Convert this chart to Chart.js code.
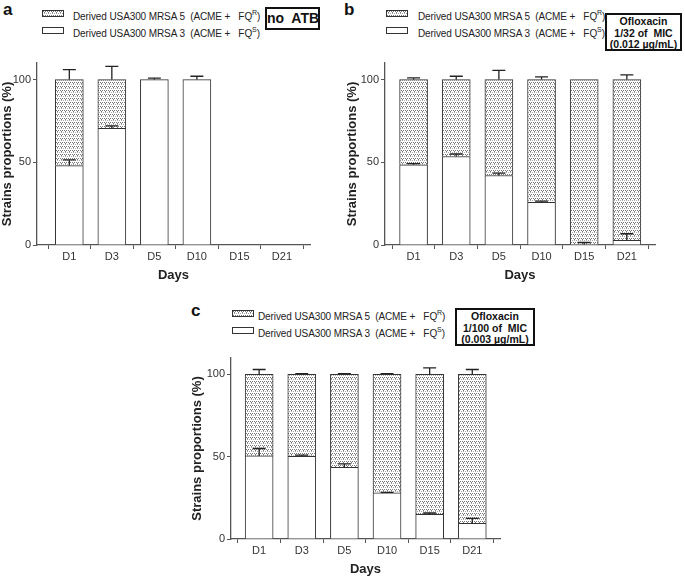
<!DOCTYPE html>
<html>
<head>
<meta charset="utf-8">
<script src="https://cdn.jsdelivr.net/npm/chart.js@4.4.1/dist/chart.umd.min.js"></script>
<style>
    body {
        margin: 0;
        width: 685px;
        height: 579px;
        background: #fff;
        position: relative;
        overflow: hidden;
        font-family: "Liberation Sans", Arial, sans-serif;
        color: #222;
    }
    canvas {
        position: absolute;
    }
    .tag {
        position: absolute;
        font-weight: bold;
        font-size: 17px;
        line-height: 1;
        color: #111;
    }
    .leg {
        position: absolute;
        font-size: 10px;
        line-height: 1;
        white-space: pre;
        color: #222;
        letter-spacing: -0.1px;
    }
    .leg sup {
        font-size: 7px;
        vertical-align: 5px;
    }
    .sw {
        position: absolute;
        width: 20px;
        height: 5px;
        border: 1px solid #333;
        background: #fff;
    }
    .box {
        position: absolute;
        border: 2px solid #111;
        font-weight: bold;
        text-align: center;
        color: #111;
        box-sizing: border-box;
        white-space: pre;
    }
</style>
</head>
<body>

<div class="tag" style="left:3px; top:1px;">a</div>
<div class="tag" style="left:344px; top:1px;">b</div>
<div class="tag" style="left:191px; top:302px;">c</div>

<div class="sw pat" style="left:42px; top:10px;"></div>
<div class="leg" style="left:73px; top:9px;">Derived USA300 MRSA 5  (ACME +   FQ<sup>R</sup>)</div>
<div class="sw" style="left:42px; top:27px;"></div>
<div class="leg" style="left:73px; top:26px;">Derived USA300 MRSA 3  (ACME +   FQ<sup>S</sup>)</div>
<div class="box" style="left:265px; top:7px; width:55px; height:23px; font-size:14px; line-height:19px;">no  ATB</div>

<div class="sw pat" style="left:386px; top:10px;"></div>
<div class="leg" style="left:418px; top:9px;">Derived USA300 MRSA 5  (ACME +   FQ<sup>R</sup>)</div>
<div class="sw" style="left:386px; top:27px;"></div>
<div class="leg" style="left:418px; top:26px;">Derived USA300 MRSA 3  (ACME +   FQ<sup>S</sup>)</div>
<div class="box" style="left:605px; top:13px; width:77px; height:38px; font-size:10.5px; line-height:11.5px; padding-top:1px;">Ofloxacin
1/32 of  MIC
(0.012 µg/mL)</div>

<div class="sw pat" style="left:232px; top:310px;"></div>
<div class="leg" style="left:258px; top:309px;">Derived USA300 MRSA 5  (ACME +   FQ<sup>R</sup>)</div>
<div class="sw" style="left:232px; top:327px;"></div>
<div class="leg" style="left:258px; top:326px;">Derived USA300 MRSA 3  (ACME +   FQ<sup>S</sup>)</div>
<div class="box" style="left:455px; top:308px; width:80px; height:38px; font-size:10.5px; line-height:11.5px; padding-top:1px;">Ofloxacin
1/100 of  MIC
(0.003 µg/mL)</div>

<canvas id="chartA" width="318" height="240" style="left:0px; top:50px;"></canvas>
<canvas id="chartB" width="315" height="240" style="left:345px; top:50px;"></canvas>
<canvas id="chartC" width="315" height="234" style="left:190px; top:345px;"></canvas>

<script>

const days = ["D1", "D3", "D5", "D10", "D15", "D21"];

const yTicks = [0, 50, 100];

// panel a : no antibiotic
const aMrsa3 = [48, 70.5, 100, 100, null, null];
const aMrsa5 = [52, 29.5, null, null, null, null];
const aErr3 = [3.5, 1.5, 0.8, 2, 0, 0];
const aErr5 = [6, 8, 0, 0, 0, 0];

// panel b : ofloxacin 1/32 MIC
const bMrsa3 = [48.5, 53.5, 42, 25.8, 0.3, 2.8];
const bMrsa5 = [51.5, 46.5, 58, 74.2, 99.7, 97.2];
const bErr3 = [0.7, 1.5, 1.5, 0.7, 1.2, 4];
const bErr5 = [1, 2, 5.5, 1.6, 0, 2.8];

// panel c : ofloxacin 1/100 MIC
const cMrsa3 = [50.5, 50.2, 43.5, 28, 15, 9.5];
const cMrsa5 = [49.5, 49.8, 56.5, 72, 85, 90.5];
const cErr3 = [4.5, 0.8, 2.2, 0.3, 0.8, 3];
const cErr5 = [3, 0.5, 0.5, 0.5, 4, 3];

function makePattern() {

    const tile = document.createElement("canvas");
    tile.width = 4;
    tile.height = 4;

    const t = tile.getContext("2d");
    t.fillStyle = "#ffffff";
    t.fillRect(0, 0, 4, 4);

    t.fillStyle = "#777";
    t.fillRect(0, 0, 1, 1);
    t.fillRect(2, 0, 1, 1);
    t.fillRect(1, 1, 1, 1);
    t.fillStyle = "#a8a8a8";
    t.fillRect(3, 2, 1, 1);
    t.fillRect(1, 2, 1, 1);

    return tile;
}

const tile = makePattern();

const patternFill =
    document.createElement("canvas")
        .getContext("2d")
        .createPattern(tile, "repeat");

document.querySelectorAll(".sw.pat").forEach(el => {
    el.style.backgroundImage = "url(" + tile.toDataURL() + ")";
});

const errorBars = {

    id: "errorBars",

    afterDatasetsDraw(chart) {

        const ctx = chart.ctx;
        const yScale = chart.scales.y;
        const sets = chart.data.datasets;

        ctx.save();
        ctx.strokeStyle = "#222";
        ctx.lineWidth = 1.3;

        sets.forEach((ds, di) => {

            const meta = chart.getDatasetMeta(di);

            ds.data.forEach((pt, i) => {

                if (pt.y === null || !ds.errors[i]) return;

                let top = 0;
                for (let k = 0; k <= di; k++) {
                    top += sets[k].data[i].y || 0;
                }

                const bar = meta.data[i];
                const y0 = yScale.getPixelForValue(top);
                const y1 = yScale.getPixelForValue(top + ds.errors[i]);
                const x = bar.x;

                ctx.beginPath();
                ctx.moveTo(x, y0);
                ctx.lineTo(x, y1);
                ctx.moveTo(x - 6.5, y1);
                ctx.lineTo(x + 6.5, y1);
                ctx.stroke();

            });

        });

        ctx.restore();
    }
};

function toPoints(values) {
    return values.map((v, i) => ({ x: i, y: v }));
}

function makePanel(id, mrsa3, mrsa5, err3, err5, xMin, xMax, yWidth, pad) {

    const axisFont = {
        family: "'Liberation Sans', Arial, sans-serif",
        size: 11
    };

    const titleFont = {
        family: "'Liberation Sans', Arial, sans-serif",
        size: 13,
        weight: "bold"
    };

    return new Chart(document.getElementById(id), {

        type: "bar",

        data: {
            datasets: [
                {
                    label: "Derived USA300 MRSA 3 (ACME + FQS)",
                    data: toPoints(mrsa3),
                    errors: err3,
                    backgroundColor: "#ffffff",
                    borderColor: "#333",
                    borderWidth: 1,
                    barThickness: 28
                },
                {
                    label: "Derived USA300 MRSA 5 (ACME + FQR)",
                    data: toPoints(mrsa5),
                    errors: err5,
                    backgroundColor: patternFill,
                    borderColor: "#333",
                    borderWidth: 1,
                    barThickness: 28
                }
            ]
        },

        options: {

            responsive: false,
            animation: false,
            devicePixelRatio: 1,

            layout: {
                padding: pad
            },

            plugins: {
                legend: { display: false },
                tooltip: { enabled: false }
            },

            scales: {

                x: {
                    type: "linear",
                    stacked: true,
                    offset: false,
                    bounds: "data",
                    min: xMin,
                    max: xMax,
                    afterBuildTicks: (scale) => {
                        scale.ticks = days.map((d, i) => ({ value: i }));
                    },
                    afterFit: (scale) => {
                        scale.height = 40;
                    },
                    ticks: {
                        callback: (v) => days[v],
                        font: axisFont,
                        color: "#333",
                        padding: 1,
                        maxRotation: 0
                    },
                    grid: {
                        drawOnChartArea: false,
                        drawTicks: true,
                        tickLength: 4,
                        color: "#555"
                    },
                    border: {
                        color: "#555",
                        width: 1.3
                    },
                    title: {
                        display: true,
                        text: "Days",
                        font: titleFont,
                        color: "#222",
                        padding: { top: 4, bottom: 2 }
                    }
                },

                y: {
                    stacked: true,
                    min: 0,
                    max: 110,
                    afterBuildTicks: (scale) => {
                        scale.ticks = yTicks.map(v => ({ value: v }));
                    },
                    afterFit: (scale) => {
                        scale.width = yWidth;
                    },
                    ticks: {
                        font: axisFont,
                        color: "#333",
                        padding: 2
                    },
                    grid: {
                        drawOnChartArea: false,
                        drawTicks: true,
                        tickLength: 4,
                        color: "#555"
                    },
                    border: {
                        color: "#555",
                        width: 1.3
                    },
                    title: {
                        display: true,
                        text: "Strains proportions (%)",
                        font: titleFont,
                        color: "#222",
                        padding: { top: 0, bottom: 0 }
                    }
                }
            }
        },

        plugins: [errorBars]
    });
}

makePanel("chartA", aMrsa3, aMrsa5, aErr3, aErr5, -0.76, 5.66, 37,
    { top: 13, right: 8, bottom: 5, left: 0 });

makePanel("chartB", bMrsa3, bMrsa5, bErr3, bErr5, -0.67, 5.66, 40,
    { top: 13, right: 5, bottom: 5, left: 0 });

makePanel("chartC", cMrsa3, cMrsa5, cErr3, cErr5, -0.66, 5.65, 41,
    { top: 13, right: 5, bottom: 0, left: 0 });

</script>
</body>
</html>
